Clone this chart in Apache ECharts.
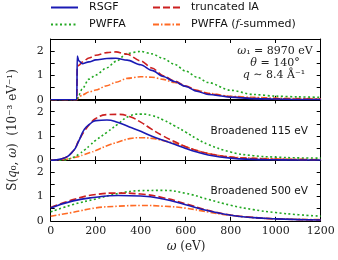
<!DOCTYPE html>
<html><head><meta charset="utf-8">
<script src="https://cdn.jsdelivr.net/npm/echarts@6/dist/echarts.min.js"></script>
<style>html,body{margin:0;padding:0;background:#fff}#c{width:338px;height:260px}</style>
</head><body><div id="c"></div>
<script>
// ---- data ----
const seriesNames = ['RSGF', 'truncated IA', 'PWFFA', 'PWFFA (f-summed)'];
const xTicks = [0, 200, 400, 600, 800, 1000, 1200];
const yTicks = [0, 1, 2];
const panelLabels = ['', 'Broadened 115 eV', 'Broadened 500 eV'];

const omegaTop = [0, 100, 116, 118, 125, 140, 170, 200, 250, 290, 340, 400, 450, 500, 550, 600, 650, 700, 800, 900, 1000, 1100, 1200];
const rsgfTop  = [0, 0, 0, 1.80, 1.60, 1.48, 1.56, 1.64, 1.70, 1.71, 1.63, 1.44, 1.21, 0.96, 0.75, 0.55, 0.35, 0.22, 0.11, 0.05, 0.03, 0.015, 0.01];
const tiaTop   = [0, 0, 0, 1.35, 1.42, 1.55, 1.72, 1.83, 1.94, 1.97, 1.87, 1.60, 1.31, 0.99, 0.77, 0.57, 0.38, 0.25, 0.12, 0.06, 0.04, 0.03, 0.02];
const pwTop    = [0, 0, 0, 0.05, 0.20, 0.45, 0.85, 1.02, 1.32, 1.58, 1.91, 1.99, 1.89, 1.70, 1.46, 1.18, 0.93, 0.71, 0.39, 0.22, 0.15, 0.12, 0.10];
const pwfTop   = [0, 0, 0, 0.03, 0.10, 0.20, 0.32, 0.40, 0.58, 0.72, 0.88, 0.95, 0.93, 0.84, 0.71, 0.56, 0.39, 0.27, 0.14, 0.10, 0.07, 0.05, 0.04];

const omegaMid = [0, 50, 100, 125, 150, 175, 200, 250, 300, 350, 400, 450, 500, 550, 600, 650, 700, 800, 900, 1000, 1100, 1200];
const rsgfMid  = [0, 0.06, 0.38, 0.80, 1.28, 1.50, 1.63, 1.66, 1.55, 1.37, 1.19, 0.99, 0.82, 0.66, 0.49, 0.34, 0.22, 0.09, 0.04, 0.02, 0.01, 0.01];
const tiaMid   = [0, 0.06, 0.38, 0.82, 1.20, 1.50, 1.72, 1.88, 1.89, 1.80, 1.57, 1.27, 1.00, 0.77, 0.56, 0.40, 0.28, 0.13, 0.07, 0.04, 0.03, 0.02];
const pwMid    = [0, 0.01, 0.12, 0.25, 0.42, 0.62, 0.82, 1.15, 1.50, 1.82, 1.90, 1.84, 1.66, 1.42, 1.16, 0.88, 0.65, 0.34, 0.19, 0.13, 0.10, 0.09];
const pwfMid   = [0, 0.02, 0.10, 0.16, 0.24, 0.32, 0.40, 0.60, 0.75, 0.89, 0.93, 0.90, 0.81, 0.70, 0.56, 0.40, 0.28, 0.14, 0.09, 0.06, 0.04, 0.03];

const omegaBot = [0, 100, 200, 300, 400, 500, 600, 700, 800, 900, 1000, 1100, 1200];
const rsgfBot  = [0.53, 0.82, 0.97, 1.04, 1.02, 0.90, 0.66, 0.41, 0.23, 0.13, 0.08, 0.05, 0.03];
const tiaBot   = [0.55, 0.87, 1.08, 1.14, 1.10, 0.95, 0.70, 0.43, 0.24, 0.14, 0.08, 0.05, 0.03];
const pwBot    = [0.37, 0.67, 0.90, 1.12, 1.24, 1.25, 1.13, 0.88, 0.64, 0.46, 0.34, 0.25, 0.19];
const pwfBot   = [0.19, 0.35, 0.53, 0.60, 0.63, 0.60, 0.52, 0.36, 0.22, 0.13, 0.08, 0.06, 0.05];

// ---- build ----
const panels = [
  {x: omegaTop, ys: [rsgfTop, tiaTop, pwTop, pwfTop], smooth: 0.3, mono: 'x'},
  {x: omegaMid, ys: [rsgfMid, tiaMid, pwMid, pwfMid], smooth: 0.5, mono: null},
  {x: omegaBot, ys: [rsgfBot, tiaBot, pwBot, pwfBot], smooth: 0.5, mono: null}
];
const colors = ['#1a1ab4', '#cc2020', '#22a822', '#ff6a24'];
const dashes = ['solid', [7, 3], [2, 2.5], [6, 2, 1.5, 2]];
const widths = [1.6, 1.6, 1.6, 1.6];
const gridTops = [39, 99.5, 160];
const gridH = 60.8;
const serif = 'DejaVu Serif';
const sans = 'DejaVu Sans';

const grids = [], xAxes = [], yAxes = [], series = [];
gridTops.forEach((t, i) => {
  grids.push({left: 50.7, right: 17.3, top: t, height: gridH});
  const tick = {show: true, inside: true, length: 4, lineStyle: {color: '#000', width: 1}};
  const line = {show: true, onZero: false, lineStyle: {color: '#000', width: 1}};
  xAxes.push({gridIndex: i, type: 'value', min: 0, max: 1200, interval: 200, position: 'bottom',
    axisLine: line, axisTick: tick, splitLine: {show: false},
    axisLabel: {show: i === 2, color: '#222', fontFamily: serif, fontSize: 11, margin: 5,
      formatter: v => xTicks.includes(v) ? String(v) : ''}});
  xAxes.push({gridIndex: i, type: 'value', min: 0, max: 1200, interval: 200, position: 'top',
    axisLine: line, axisTick: tick, splitLine: {show: false}, axisLabel: {show: false}});
  yAxes.push({gridIndex: i, type: 'value', min: 0, max: 2.5, interval: 0.5, position: 'left',
    axisLine: line, axisTick: tick, splitLine: {show: false},
    axisLabel: {color: '#222', fontFamily: serif, fontSize: 11, margin: 7,
      formatter: v => yTicks.includes(v) ? String(v) : ''}});
  yAxes.push({gridIndex: i, type: 'value', min: 0, max: 2.5, interval: 0.5, position: 'right',
    axisLine: line, axisTick: tick, splitLine: {show: false}, axisLabel: {show: false}});
  const p = panels[i];
  p.ys.forEach((ys, k) => {
    series.push({
      name: seriesNames[k], type: 'line', xAxisIndex: 2 * i, yAxisIndex: 2 * i,
      data: p.x.map((x, j) => [x, ys[j]]),
      symbol: 'none', smooth: p.smooth, smoothMonotone: p.mono, z: k === 0 ? 20 : 10 - k,
      lineStyle: {color: colors[k], width: widths[k], type: dashes[k]},
      itemStyle: {color: colors[k]}
    });
  });
});

const legendText = {
  fontFamily: sans, fontSize: 11, color: '#111', padding: [0, 0, 0, 6],
  rich: {i: {fontFamily: serif, fontStyle: 'italic', fontSize: 11, color: '#111'}}
};
const legFmt = n => n === 'PWFFA (f-summed)' ? 'PWFFA ({i|f}-summed)' : n;
const legItem = {color: 'rgba(0,0,0,0)', borderColor: 'rgba(0,0,0,0)', opacity: 0};

const mathRich = {
  i: {fontFamily: serif, fontStyle: 'italic', fontSize: 11, fill: '#222'},
  n: {fontFamily: serif, fontSize: 11, fill: '#222'}
};
function mtext(x, y, text, size, align) {
  const rich = {
    i: {fontFamily: serif, fontStyle: 'italic', fontSize: size, fill: '#222'},
    n: {fontFamily: serif, fontSize: size, fill: '#222'}
  };
  return {type: 'text', x: x, y: y,
    style: {text: text, rich: rich, fontFamily: serif, fontSize: size, fill: '#222',
      align: align || 'center', verticalAlign: 'middle'}};
}
const ylab = mtext(13, 130, '{n|S(}{i|q}{n|₀, }{i|ω}{n|)  (10⁻³ eV⁻¹)}', 12);
ylab.rotation = Math.PI / 2;

const option = {
  animation: false,
  backgroundColor: '#fff',
  grid: grids, xAxis: xAxes, yAxis: yAxes, series: series,
  legend: [
    {data: ['RSGF', 'PWFFA'], orient: 'vertical', left: 50, top: 2, padding: 0, itemWidth: 27, itemHeight: 10,
      itemGap: 6, textStyle: legendText, formatter: legFmt, selectedMode: false, itemStyle: legItem},
    {data: ['truncated IA', 'PWFFA (f-summed)'], orient: 'vertical', left: 152, top: 2, padding: 0, itemWidth: 27, itemHeight: 10,
      itemGap: 6, textStyle: legendText, formatter: legFmt, selectedMode: false, itemStyle: legItem}
  ],
  graphic: [
    ylab,
    mtext(186, 247, '{i|ω}{n| (eV)}', 12),
    mtext(275, 51, '{i|ω}{n|₁ = 8970 eV}', 11),
    mtext(275, 63, '{i|θ}{n| = 140°}', 11),
    mtext(274, 75.5, '{i|q}{n| ∼ 8.4 Å⁻¹}', 11),
    {type: 'text', x: 308, y: 131.5,
      style: {text: panelLabels[1], font: '10.5px "DejaVu Sans"', fill: '#111', align: 'right', verticalAlign: 'middle'}},
    {type: 'text', x: 308, y: 191.5,
      style: {text: panelLabels[2], font: '10.5px "DejaVu Sans"', fill: '#111', align: 'right', verticalAlign: 'middle'}}
  ]
};
const chart = echarts.init(document.getElementById('c'), null, {renderer: 'canvas'});
chart.setOption(option);
</script>
</body></html>
